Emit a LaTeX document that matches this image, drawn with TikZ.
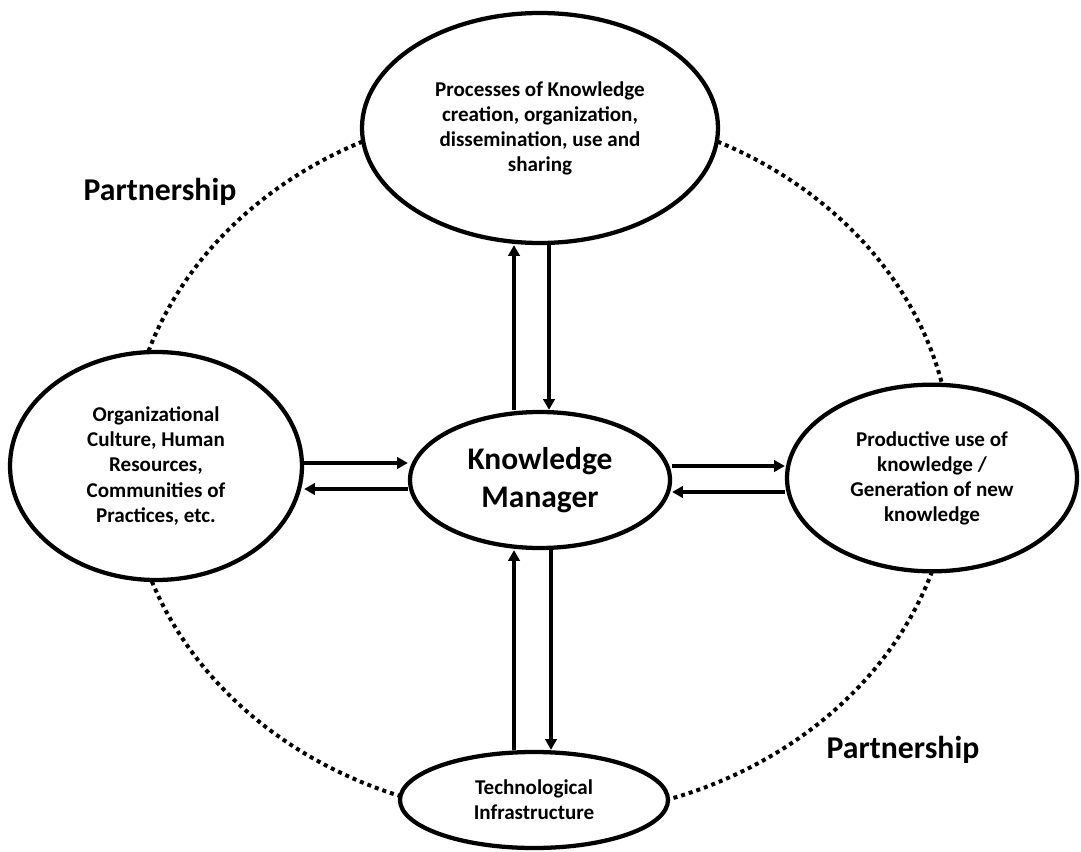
\documentclass[tikz,border=0pt]{standalone}
\usepackage{fontspec}
\setmainfont{Carlito}
\usetikzlibrary{shapes.geometric, arrows.meta}

\tikzset{
  blob/.style={ellipse, draw, line width=3.2pt, fill=white, inner sep=0pt, align=center,
    font=\bfseries\fontsize{15.8}{18.8}\selectfont},
  link/.style={line width=2.4pt, -{Triangle[length=8pt,width=8.5pt]}},
  ring/.style={line width=3pt, dash pattern=on 3pt off 3pt},
  tag/.style={font=\bfseries\fontsize{23.8}{28}\selectfont}
}

\begin{document}
\begin{tikzpicture}[x=0.75pt, y=-0.75pt] % knowledge manager
\useasboundingbox (0,0) rectangle (1081,852);
\draw[ring] (540,462) ellipse [x radius=412, y radius=355];
\node[blob, minimum width=267pt, minimum height=172.5pt] (proc) at (540,128)
  {Processes of Knowledge\\creation, organization,\\dissemination, use and\\sharing};
\node[blob, minimum width=219pt, minimum height=171pt] (lft) at (156,466)
  {Organizational\\Culture, Human\\Resources,\\Communities of\\Practices, etc.};
\node[blob, minimum width=195pt, minimum height=102pt, font=\bfseries\fontsize{23.6}{28.5}\selectfont] (km) at (540,480)
  {Knowledge\\Manager};
\node[blob, minimum width=217.5pt, minimum height=140pt] (rgt) at (932,478)
  {Productive use of\\knowledge /\\Generation of new\\knowledge};
\node[blob, minimum width=201pt, minimum height=72pt] (bot) at (534,800)
  {Technological\\Infrastructure};
\node[tag] (p1) at (160,192) {Partnership};
\node[tag] (p2) at (903,750) {Partnership};
% arrows
\draw[link] ([xshift=-19.5pt]km.north) -- ([xshift=-19.5pt]proc.south);
\draw[link] ([xshift=6.75pt]proc.south) -- ([xshift=6.75pt]km.north);
\draw[link] ([yshift=2.25pt]lft.east) -- ([yshift=12.75pt]km.west);
\draw[link] ([yshift=-6.75pt]km.west) -- ([yshift=-17.25pt]lft.east);
\draw[link] ([yshift=10.5pt]km.east) -- ([yshift=9pt]rgt.west);
\draw[link] ([yshift=-10.5pt]rgt.west) -- ([yshift=-9pt]km.east);
\draw[link] ([xshift=-15pt]bot.north) -- ([xshift=-19.5pt]km.south);
\draw[link] ([xshift=8.25pt]km.south) -- ([xshift=12.75pt]bot.north);
\end{tikzpicture}
\end{document}
